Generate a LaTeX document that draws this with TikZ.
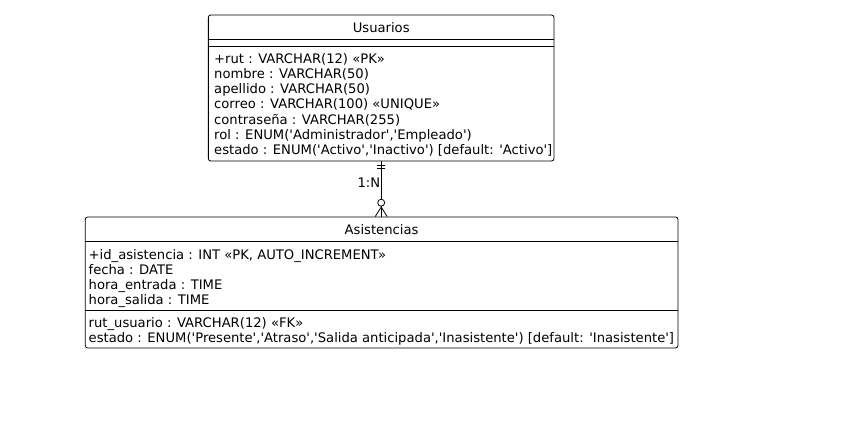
\documentclass[tikz,border=0pt]{standalone}
\usepackage{fontspec}
\usepackage{tikz}
\usetikzlibrary{positioning,calc}
\newfontfamily\umlfont{DejaVu Sans}
\newcommand{\umlsize}{\fontsize{13.15}{15}\selectfont}

\begin{document}
\begin{tikzpicture}[x=1pt,y=1pt,yscale=-1,xscale=1,
        classbox/.style={draw, rounded corners=2.5pt, line width=0.8pt, inner sep=0pt, fill=white},
        classname/.style={inner sep=0pt, font=\umlfont\umlsize},
        attr/.style={anchor=base west, inner sep=0pt, font=\umlfont\umlsize},
        sepline/.style={line width=0.8pt},
        link/.style={line width=0.8pt}]
        \useasboundingbox (0,0) rectangle (867,439);
        %Class: Usuarios
        \node [classbox, minimum width=345.7pt, minimum height=146pt] (usu) at (381.2,88) {};
        \node [classname] (usuName) at (381.2,27.3) {Usuarios};
        \draw [sepline] ($(usu.north west)+(0,24.3)$) -- ($(usu.north east)+(0,24.3)$);
        \draw [sepline] ($(usu.north west)+(0,31.7)$) -- ($(usu.north east)+(0,31.7)$);
        % Text Node
        \node [attr] (usuRut) at (214,63.3) {+rut : VARCHAR(12) «PK»};
        \node [attr] (usuNombre) at (214,78.5) {nombre : VARCHAR(50)};
        \node [attr] (usuApellido) at (214,93.6) {apellido : VARCHAR(50)};
        \node [attr] (usuCorreo) at (214,108.8) {correo : VARCHAR(100) «UNIQUE»};
        \node [attr] (usuClave) at (214,124) {contraseña : VARCHAR(255)};
        \node [attr] (usuRol) at (214,139.1) {rol : ENUM('Administrador','Empleado')};
        \node [attr] (usuEstado) at (214,154.3) {estado : ENUM('Activo','Inactivo') [default: 'Activo']};
        %Class: Asistencias
        \node [classbox, minimum width=592.7pt, minimum height=131pt] (asis) at (381.6,282.5) {};
        \node [classname] (asisName) at (381.6,229.5) {Asistencias};
        \draw [sepline] ($(asis.north west)+(0,25)$) -- ($(asis.north east)+(0,25)$);
        \draw [sepline] ($(asis.north west)+(0,93.5)$) -- ($(asis.north east)+(0,93.5)$);
        % Text Node
        \node [attr] (asisId) at (88.5,259) {+id\_asistencia : INT «PK, AUTO\_INCREMENT»};
        \node [attr] (asisFecha) at (88.5,274) {fecha : DATE};
        \node [attr] (asisEntrada) at (88.5,289) {hora\_entrada : TIME};
        \node [attr] (asisSalida) at (88.5,304) {hora\_salida : TIME};
        \node [attr] (asisRut) at (88.5,327.3) {rut\_usuario : VARCHAR(12) «FK»};
        \node [attr] (asisEstado) at (88.5,342.3) {estado : ENUM('Presente','Atraso','Salida anticipada','Inasistente') [default: 'Inasistente']};
        %Relation: one Usuario, many Asistencias
        \coordinate (footTip) at (usu.south |- asis.north);
        \draw [link] (usu.south) -- (footTip);
        \draw [link] ($(usu.south)+(-4,4.3)$) -- ($(usu.south)+(4,4.3)$);
        \draw [link] ($(usu.south)+(-4,6.5)$) -- ($(usu.south)+(4,6.5)$);
        \node [classname, anchor=east] (card) at ($(usu.south)+(-0.8,21)$) {1:N};
        \draw [link, fill=white] ($(usu.south)+(0,41.3)$) circle (3.5pt);
        \draw [link] ($(footTip)+(-6,0)$) -- ($(footTip)+(0,-9.5)$) -- ($(footTip)+(6,0)$);
\end{tikzpicture}
\end{document}
